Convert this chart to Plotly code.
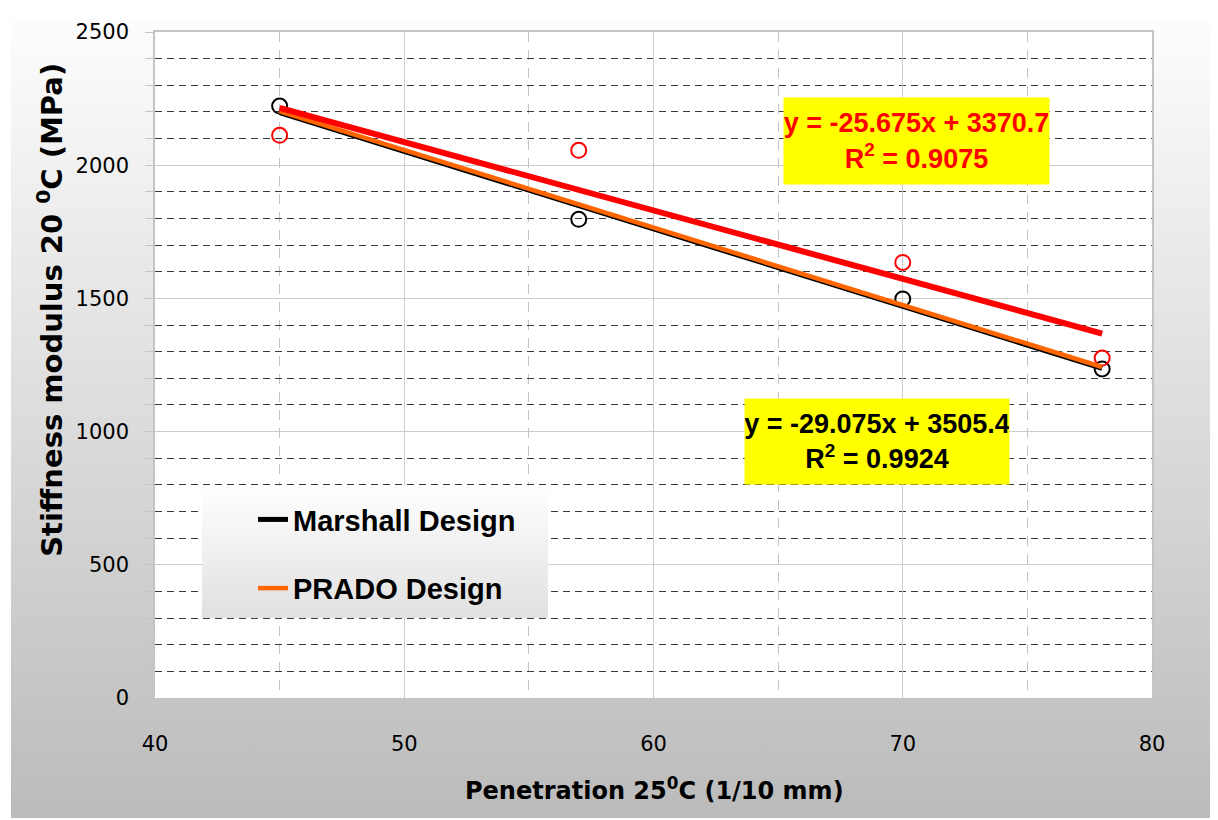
import base64
import plotly.graph_objects as go

# ---------------- data ----------------
penetration = [45, 57, 70, 78]
marshall_stiffness = [2222, 1797, 1498, 1235]
prado_stiffness = [2112, 2056, 1635, 1276]

marshall_slope, marshall_intercept, marshall_r2 = -29.075, 3505.4, 0.9924
prado_slope, prado_intercept, prado_r2 = -25.675, 3370.7, 0.9075

x_ticks = [40, 50, 60, 70, 80]
y_ticks = [0, 500, 1000, 1500, 2000, 2500]

series_names = ["Marshall Design", "PRADO Design"]

# ---------------- layout geometry (page pixels) ----------------
PAGE_W, PAGE_H = 1218, 820
OFF = 8                      # page body margin
W, H = PAGE_W - OFF, PAGE_H - OFF
PLOT_L, PLOT_R, PLOT_T, PLOT_B = 155, 1152, 22, 698   # page pixels
ML, MT = PLOT_L - OFF, PLOT_T - OFF
MR, MB = PAGE_W - PLOT_R, PAGE_H - PLOT_B
PW, PH = PLOT_R - PLOT_L, PLOT_B - PLOT_T

def px_to_paper_x(px):
    return (px - PLOT_L) / PW

def px_to_paper_y(py):
    return 1 - (py - PLOT_T) / PH

FONT = "Liberation Sans, Arial, sans-serif"
DJV = "DejaVu Sans, sans-serif"

trend_x = [min(penetration), max(penetration)]
marshall_trend = [marshall_slope * x + marshall_intercept for x in trend_x]
prado_trend = [prado_slope * x + prado_intercept for x in trend_x]
overlay_shift = 5.0  # small visual offset (MPa) of the orange line over the black one
orange_trend = [v + overlay_shift for v in marshall_trend]

fig = go.Figure()

# markers
fig.add_trace(go.Scatter(
    x=penetration, y=marshall_stiffness, mode="markers", showlegend=False,
    marker=dict(symbol="circle-open", size=15, color="black", line=dict(width=2, color="black")),
))
fig.add_trace(go.Scatter(
    x=penetration, y=prado_stiffness, mode="markers", showlegend=False,
    marker=dict(symbol="circle-open", size=15, color="red", line=dict(width=2, color="red")),
))

# trend lines
fig.add_trace(go.Scatter(
    x=trend_x, y=marshall_trend, mode="lines", name=series_names[0],
    line=dict(color="black", width=5), legendgroup="a",
))
fig.add_trace(go.Scatter(
    x=trend_x, y=orange_trend, mode="lines", name=series_names[1],
    line=dict(color="#ff6600", width=4.5), legendgroup="b",
))
fig.add_trace(go.Scatter(
    x=trend_x, y=prado_trend, mode="lines", showlegend=False,
    line=dict(color="#ff0000", width=6),
))

# ---------------- background images ----------------
bg_svg = (
    f'<svg xmlns="http://www.w3.org/2000/svg" width="{W}" height="{H}" viewBox="0 0 {W} {H}" preserveAspectRatio="none">'
    '<defs><linearGradient id="g" x1="0" y1="0" x2="0" y2="1">'
    '<stop offset="0" stop-color="#fdfdfd"/><stop offset="1" stop-color="#bbbbbb"/>'
    '</linearGradient></defs>'
    f'<rect x="0" y="0" width="{W}" height="{H}" fill="#ffffff"/>'
    f'<rect x="3" y="0" width="{W-3}" height="{H}" fill="url(#g)"/>'
    f'<rect x="{ML}" y="{MT}" width="{PW}" height="{PH}" fill="#ffffff"/>'
    '</svg>'
)
leg_svg = (
    '<svg xmlns="http://www.w3.org/2000/svg" width="100" height="100" viewBox="0 0 100 100" preserveAspectRatio="none">'
    '<defs><linearGradient id="g" x1="0" y1="0" x2="0" y2="1">'
    '<stop offset="0" stop-color="#ffffff"/><stop offset="1" stop-color="#e0e0e0"/>'
    '</linearGradient></defs>'
    '<rect x="0" y="0" width="100" height="100" fill="url(#g)"/></svg>'
)

def svg_uri(s):
    return "data:image/svg+xml;base64," + base64.b64encode(s.encode()).decode()

leg_box = (202, 482, 548, 617)

images = [
    dict(source=svg_uri(bg_svg), xref="paper", yref="paper",
         x=-ML / PW, y=1 + MT / PH, sizex=W / PW, sizey=H / PH,
         xanchor="left", yanchor="top", sizing="stretch", layer="below"),
    dict(source=svg_uri(leg_svg), xref="paper", yref="paper",
         x=px_to_paper_x(leg_box[0]), y=px_to_paper_y(leg_box[1]),
         sizex=(leg_box[2] - leg_box[0]) / PW, sizey=(leg_box[3] - leg_box[1]) / PH,
         xanchor="left", yanchor="top", sizing="stretch", layer="above"),
]

# ---------------- annotations ----------------
def eq_text(slope, intercept, r2):
    sign = "+" if intercept >= 0 else "-"
    return f"y = {slope:.3f}x {sign} {abs(intercept):.1f}<br>R<sup>2</sup> = {r2:.4f}"

annotations = [
    dict(text=eq_text(prado_slope, prado_intercept, prado_r2),
         xref="paper", yref="paper",
         x=px_to_paper_x(916.5), y=px_to_paper_y(133),
         xanchor="center", yanchor="middle", showarrow=False,
         bgcolor="#ffff00", width=265, height=86, borderpad=0, align="center",
         font=dict(family=FONT, size=27, color="#ff0000", weight="bold")),
    dict(text=eq_text(marshall_slope, marshall_intercept, marshall_r2),
         xref="paper", yref="paper",
         x=px_to_paper_x(877), y=px_to_paper_y(437.5),
         xanchor="center", yanchor="middle", showarrow=False,
         bgcolor="#ffff00", width=264, height=85, borderpad=0, align="center",
         font=dict(family=FONT, size=27, color="black", weight="bold")),
    dict(text="Stiffness modulus 20 <sup>0</sup>C (MPa)",
         xref="paper", yref="paper",
         x=px_to_paper_x(50), y=px_to_paper_y(304),
         xanchor="center", yanchor="middle", showarrow=False, textangle=-90,
         font=dict(family=DJV, size=29, color="black", weight="bold")),
    dict(text="Penetration 25<sup>0</sup>C (1/10 mm)",
         xref="paper", yref="paper",
         x=px_to_paper_x(654), y=px_to_paper_y(790),
         xanchor="center", yanchor="middle", showarrow=False,
         font=dict(family=DJV, size=24, color="black", weight="bold")),
]

axis_common = dict(
    showline=True, linecolor="#c4c4c4", linewidth=1.5, mirror=True,
    zeroline=False, gridcolor="#cccccc", gridwidth=1.3,
    tickfont=dict(family=DJV, size=21, color="black"),
)

fig.update_layout(
    width=W, height=H, autosize=False,
    margin=dict(l=ML, r=MR, t=MT, b=MB, pad=0),
    paper_bgcolor="rgba(0,0,0,0)", plot_bgcolor="rgba(0,0,0,0)",
    images=images,
    annotations=annotations,
    xaxis=dict(
        range=[x_ticks[0], x_ticks[-1]], tickvals=x_ticks, ticks="",
        ticklabelstandoff=26,
        minor=dict(dtick=5, showgrid=True, gridcolor="#c4c4c4", griddash="10px,8px", gridwidth=1),
        **axis_common,
    ),
    yaxis=dict(
        range=[y_ticks[0], y_ticks[-1]], tickvals=y_ticks, ticks="outside", ticklen=8,
        tickcolor="#c4c4c4", tickwidth=1.3, ticklabelstandoff=12,
        minor=dict(dtick=100, showgrid=True, gridcolor="#3a3a3a", griddash="7px,5px", gridwidth=1,
                   ticks="outside", ticklen=8, tickcolor="#c4c4c4"),
        **axis_common,
    ),
    legend=dict(
        x=px_to_paper_x(253), y=px_to_paper_y(491), xanchor="left", yanchor="top",
        bgcolor="rgba(0,0,0,0)", borderwidth=0,
        font=dict(family=FONT, size=29, color="black", weight="bold"),
        traceorder="grouped", tracegroupgap=28,
    ),
)

fig.write_html("out.html")
